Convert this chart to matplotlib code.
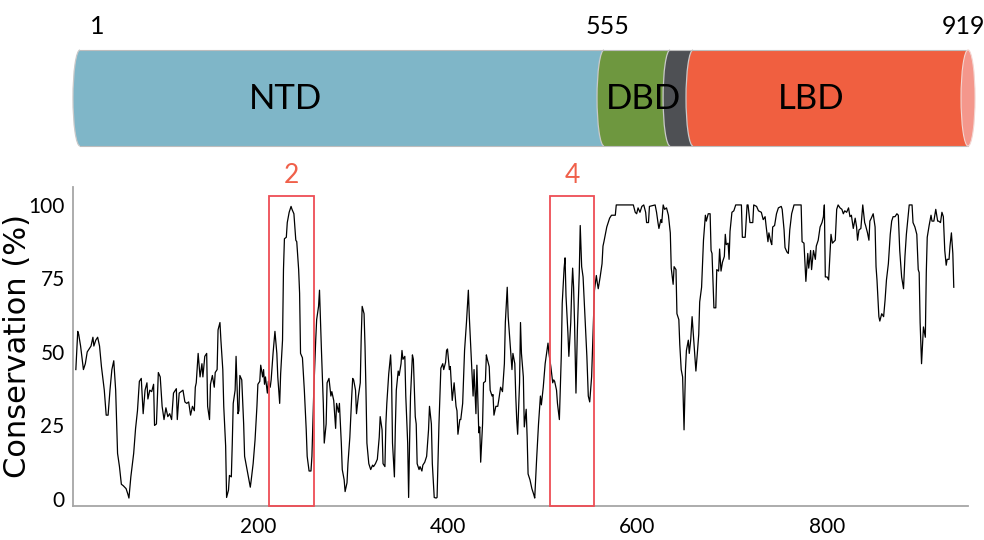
import matplotlib
matplotlib.use('Agg')
import matplotlib.pyplot as plt
from matplotlib.patches import Rectangle, Ellipse, Arc

plt.rcParams['font.family'] = ['Lato', 'DejaVu Sans']

# conservation profile (residue, % conserved)
residue = [8, 10, 11, 13, 16, 18, 20, 22, 24, 26, 27, 29, 31, 33, 35, 38, 40, 42, 44, 46,
           48, 50, 52, 54, 56, 58, 61, 63, 64, 66, 69, 71, 73, 75, 77, 79, 81, 83, 84, 86,
           88, 90, 91, 93, 95, 97, 99, 101, 103, 105, 107, 109, 111, 114, 115, 117, 119, 121, 123, 125,
           127, 129, 131, 133, 134, 135, 137, 139, 141, 142, 144, 146, 147, 149, 150, 152, 154, 155, 157, 158,
           160, 161, 163, 164, 166, 167, 169, 170, 172, 173, 174, 176, 177, 179, 180, 181, 183, 185, 186, 188,
           190, 192, 193, 195, 197, 199, 200, 202, 203, 205, 206, 207, 208, 210, 211, 213, 214, 216, 218, 220,
           221, 223, 224, 226, 227, 228, 230, 231, 233, 235, 236, 238, 240, 241, 243, 244, 245, 247, 249, 251,
           252, 254, 256, 257, 259, 261, 262, 264, 265, 267, 269, 270, 272, 273, 275, 277, 278, 280, 282, 283,
           285, 286, 288, 289, 291, 292, 294, 295, 297, 299, 300, 301, 303, 304, 306, 308, 309, 310, 312, 313,
           314, 315, 317, 319, 321, 322, 324, 326, 328, 329, 331, 332, 334, 335, 336, 338, 340, 341, 342, 344,
           345, 346, 348, 349, 351, 352, 353, 355, 356, 358, 359, 360, 361, 363, 364, 366, 367, 368, 370, 371,
           373, 374, 376, 378, 380, 381, 383, 384, 386, 388, 389, 391, 392, 393, 395, 396, 398, 399, 400, 402,
           403, 405, 407, 409, 410, 411, 413, 414, 416, 417, 418, 420, 422, 423, 425, 427, 428, 430, 431, 433,
           434, 435, 437, 438, 440, 441, 442, 444, 445, 447, 448, 449, 451, 453, 454, 456, 458, 459, 460, 461,
           463, 464, 466, 468, 469, 471, 472, 473, 474, 476, 477, 478, 480, 481, 483, 484, 485, 487, 489, 491,
           492, 494, 496, 498, 499, 501, 503, 505, 506, 507, 509, 511, 512, 513, 515, 516, 518, 520, 521, 523,
           524, 525, 527, 528, 530, 531, 532, 533, 534, 535.5, 537, 539, 540, 541.5, 543, 545, 547, 548.5, 550, 552,
           554, 555, 557, 558, 559, 561, 563, 564, 565, 566.5, 568, 570, 571, 573, 575, 577, 578, 596, 598, 599.5,
           601, 603, 605, 607, 609, 610, 612, 613, 619, 620.5, 622, 623, 625, 626, 627.5, 629, 631, 633, 635, 636,
           638, 639, 641, 642, 644, 645, 646.5, 648, 649.5, 651, 652, 654, 655, 656.5, 658, 659, 661, 662, 663.5, 665,
           666, 668, 670, 672, 673, 675, 677, 678, 679, 681, 683, 684, 686, 687, 688.5, 690, 692, 693, 694, 696,
           697, 698, 700, 702, 704, 710, 711, 714, 716, 717, 719, 722, 723, 726, 728, 731, 733, 735, 736, 738,
           739, 741, 742, 743, 745, 747, 749, 752, 753, 755, 756, 758, 759.5, 761, 763, 765.5, 773, 774, 776, 778,
           780, 781, 783, 784, 786, 788, 789, 791, 793, 795, 796.5, 797.5, 798.5, 800.5, 802, 804.5, 806, 809, 810.5, 812,
           814, 816, 817.5, 819, 821, 823, 824.5, 826, 828, 830, 831.5, 832.5, 834, 836, 838, 840, 841, 843, 844.5, 845.5,
           847, 849, 851, 852, 853, 855, 856, 858, 860, 861.5, 863, 865, 867, 868.5, 870, 872, 874, 875.5, 877, 879,
           881, 882.5, 884, 886, 887, 890, 891, 893, 895, 896.5, 897.5, 898.5, 900, 902, 904, 905, 906, 908, 910, 911,
           913, 915, 917, 918, 920, 921.5, 923, 924.5, 926, 927, 929, 930, 931.5, 933, 934]
conservation = [44, 57, 56, 52, 44, 46, 50, 51, 52, 55, 52, 54, 55, 52, 45, 37, 28.5, 28.5, 37, 44,
                47, 37, 15.5, 11, 5, 4.5, 3.5, 1.5, 0.3, 7.5, 15.5, 24, 30, 40, 41, 29, 37, 39.5, 34, 37,
                36.5, 39, 25, 25.5, 43, 41.5, 31.5, 27, 31, 28, 29, 27, 36, 37.5, 27, 36, 36.5, 37, 33, 32.5,
                33, 28.5, 31.5, 30, 38, 39.5, 49.5, 41.5, 46, 41.5, 48.5, 49.5, 31.5, 27, 39, 42, 38, 43, 44, 57.5,
                60, 54, 44, 31.5, 18, 0.5, 3, 8, 7.5, 19, 32.5, 37, 48.5, 29, 30, 42, 40.5, 25.5, 14.5, 11,
                7.5, 4, 6.5, 12, 20, 31.5, 39, 40, 45.5, 41.5, 44, 39, 41.5, 36, 40, 38, 40.5, 49.5, 57, 49.5,
                41.5, 32.5, 42.5, 54, 78, 88.5, 89, 94, 97.5, 99.5, 98.5, 97, 88, 87.5, 78, 70, 49.5, 48, 37, 23.5,
                14.5, 9.5, 9.5, 14.5, 37, 54, 61, 65.5, 71, 51, 32.5, 19, 25.5, 39.5, 41, 35, 36.5, 33.5, 24, 32.5,
                29.5, 32.5, 19, 10, 6.5, 2.5, 5.5, 12, 21, 35, 41, 40.5, 37, 29, 35, 39.5, 55, 65.5, 63, 52,
                37, 19, 12, 10, 11.5, 11, 12, 13.5, 21, 28, 23.5, 12, 11, 25.5, 32.5, 42.5, 49, 41.5, 19, 7.5,
                24.5, 37, 43.5, 42, 46, 50.5, 47.5, 48.5, 35, 19, 0.5, 19, 35, 49, 47.5, 28, 25.5, 12, 10, 11,
                9.5, 11.5, 12.5, 14.5, 23.5, 31.5, 25.5, 12, 0.5, 0.3, 0.5, 25.5, 35, 44.5, 46, 44, 46.5, 50.5, 51, 44,
                45, 33.5, 39.5, 31.5, 30, 22, 27, 27, 32.5, 41.5, 50.5, 60, 71, 62, 48.5, 35, 44, 29, 45.5, 22.5,
                24.5, 12.5, 25.5, 39.5, 40, 49, 47.5, 45, 37, 35, 35.5, 28.5, 31.5, 31.5, 33.5, 38, 36.5, 41, 46, 60,
                72, 62, 53, 44, 49.5, 46, 35, 27, 22, 39.5, 60, 49.5, 41.5, 24.5, 30.5, 21, 8.5, 6.5, 3.5, 1.5,
                0.3, 13.5, 25.5, 35, 32, 38, 46, 50.5, 53, 49.5, 45, 39.5, 40.5, 40, 37, 32.5, 27, 48.5, 66.5, 78.5,
                82, 69, 56.5, 48.5, 60, 71, 78.5, 72, 60, 36, 57.5, 77, 93, 79, 75.5, 62, 48.5, 35, 33, 41.5,
                61, 71, 76, 73.5, 71.5, 75.5, 80, 86, 87.5, 90, 92.5, 94.5, 95.5, 96.5, 96.5, 96.5, 100, 100, 97.5, 97,
                99, 97.5, 99.5, 100, 97.5, 94, 94, 99.5, 100, 97.5, 94, 92, 95, 94, 100, 98.5, 99, 96.5, 90.5, 78.5,
                73, 79, 78, 63, 61, 52.5, 44, 41.5, 23.5, 44, 50.5, 54, 49.5, 54, 62, 57.5, 48.5, 43.5, 49.5, 56,
                67, 72, 88, 96.5, 94.5, 97, 97, 84.5, 83.5, 65, 65, 78, 77.5, 85, 77.5, 80.5, 82.5, 90, 86.5, 87,
                81.5, 91, 97.5, 98, 100, 100, 89, 89, 100, 100, 94, 94, 100, 99.5, 98, 97.5, 95, 96, 93, 87.5,
                90.5, 87.5, 86.5, 92.5, 93, 97, 99, 99.5, 98.5, 91.5, 85.5, 84, 83.5, 91.5, 97, 100, 100, 87.5, 87, 74,
                83.5, 78.5, 84.5, 78, 84.5, 81.5, 86, 88, 92.5, 94, 96, 100, 75.5, 75.5, 74.5, 90, 87, 88, 98.5, 100,
                99, 98.5, 97, 98, 97.5, 99, 96, 96.5, 92, 95.5, 92.5, 88, 91.5, 92, 100, 94, 93, 90.5, 88, 94.5,
                95.5, 97, 92.5, 79, 74.5, 62, 60.5, 63, 62, 67.5, 74.5, 80, 90, 94.5, 96, 96, 97, 96.5, 84.5, 75.5,
                71.5, 82.5, 90, 96.5, 100, 100, 94, 92.5, 90, 78, 77, 60, 46, 58.5, 55, 77, 89, 93, 96.5, 94.5,
                94.5, 98.5, 94.5, 94.5, 94, 97.5, 96, 84.5, 79.5, 81.5, 81.5, 86, 90.5, 83.5, 72]

# domain map
domain_names = ['NTD', 'DBD', '', 'LBD']
domain_starts = [1, 542.7, 611, 634.7]
domain_end = 919
domain_colors = ['#7fb6c8', '#6e973f', '#4e5054', '#f05f40']
domain_label_x = [213, 584, 0, 757]
end_labels = ['1', '555', '919']
end_label_x = [18.6, 545.8, 913.8]

# highlighted regions
box_starts = [212, 508]
box_ends = [259, 555]
box_labels = ['2', '4']

fig = plt.figure(figsize=(9.84, 5.4), dpi=100)

# ---- domain cylinder ----
bar = fig.add_axes([0, 1 - 160 / 540, 1, 160 / 540])
bar.set_xlim(-81.7, 935.5)
bar.set_ylim(160, 0)
bar.axis('off')
top, h = 50, 96
cap_w = 14.5
bounds = domain_starts + [domain_end]
for i, (s, c) in enumerate(zip(domain_starts, domain_colors)):
    e = bounds[i + 1]
    bar.add_patch(Rectangle((s, top), e - s, h, facecolor=c, edgecolor='none', zorder=3 * i + 1))
    bar.add_patch(Ellipse((s, top + h / 2), cap_w, h, facecolor=c, edgecolor='none', zorder=3 * i + 2))
    bar.add_patch(Arc((s, top + h / 2), cap_w, h, theta1=90, theta2=270, color='#c9c9c9',
                      lw=0.9, zorder=3 * i + 3))
    if domain_names[i]:
        bar.text(domain_label_x[i], top + h / 2 + 1, domain_names[i], fontsize=25,
                 ha='center', va='center', color='black', zorder=20)
bar.add_patch(Ellipse((domain_end, top + h / 2), cap_w, h, facecolor='#f4978c',
                      edgecolor='#f3d6d2', lw=0.8, zorder=15))
bar.plot([domain_starts[0], domain_end], [top, top], color='#bdbdbd', lw=0.8, zorder=12)
bar.plot([domain_starts[0], domain_end], [top + h, top + h], color='#bdbdbd', lw=0.8, zorder=12)
for lab, x in zip(end_labels, end_label_x):
    bar.text(x, 27, lab, fontsize=18, ha='center', va='center')

# ---- conservation profile ----
ax = fig.add_axes([73 / 984, 1 - 506 / 540, 895 / 984, 319 / 540])
ax.plot(residue, conservation, color='black', lw=0.9)
ax.set_xlim(5, 949)
ax.set_ylim(-2.4, 106.1)
ax.set_xticks([200, 400, 600, 800])
ax.set_yticks([0, 25, 50, 75, 100])
ax.tick_params(length=0, labelsize=15)
ax.tick_params(axis='x', pad=8)
ax.tick_params(axis='y', pad=6)
for side in ['top', 'right']:
    ax.spines[side].set_visible(False)
for side in ['left', 'bottom']:
    ax.spines[side].set_color('#a6a6a6')
    ax.spines[side].set_linewidth(1.3)
ax.set_ylabel('Conservation (%)', fontsize=22, family='DejaVu Sans')
ax.yaxis.set_label_coords(-0.046, 0.5)

for s, e, lab in zip(box_starts, box_ends, box_labels):
    ax.add_patch(Rectangle((s, -2.4), e - s, 105.5, fill=False, edgecolor='#ee4d55',
                           lw=1.3, clip_on=False, zorder=5))
    ax.text((s + e) / 2, 110, lab, color='#f0604a', fontsize=19, ha='center', va='center')

fig.savefig('out.png', dpi=100)
